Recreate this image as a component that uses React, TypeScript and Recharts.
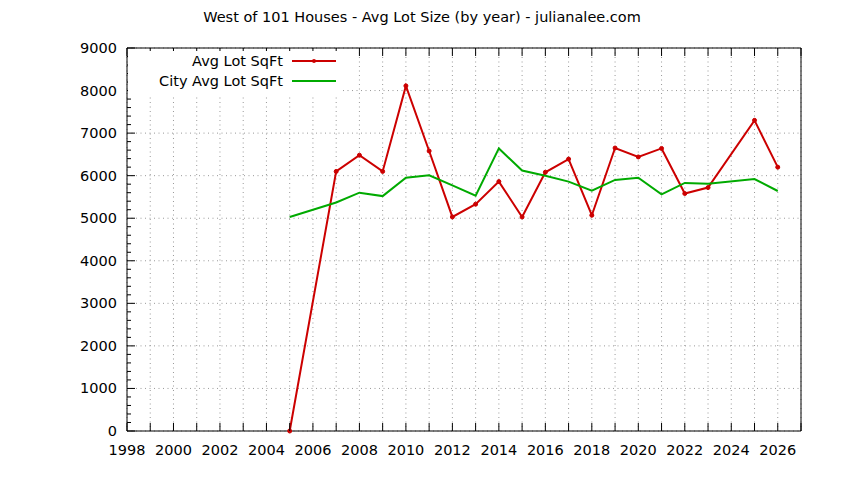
import { LineChart, Line, XAxis, YAxis, CartesianGrid, Legend } from "recharts"

const FONT = "'DejaVu Sans', sans-serif"
const RED = "#cc0000"
const GREEN = "#00aa00"

// values (null = no point for that year)
const years = [2005, 2006, 2007, 2008, 2009, 2010, 2011, 2012, 2013, 2014, 2015, 2016, 2017, 2018, 2019, 2020, 2021, 2022, 2023, 2024, 2025, 2026]
const avgLotSqft = [0, null, 6100, 6480, 6100, 8110, 6580, 5030, 5330, 5860, 5030, 6080, 6390, 5070, 6650, 6440, 6640, 5580, 5720, null, 7300, 6200]
const cityAvgLotSqft = [5030, null, 5370, 5600, 5520, 5950, 6010, 5770, 5530, 6640, 6120, 6000, 5860, 5650, 5900, 5950, 5560, 5830, 5810, null, 5920, 5640]

const xTicks = [1998, 1999, 2000, 2001, 2002, 2003, 2004, 2005, 2006, 2007, 2008, 2009, 2010, 2011, 2012, 2013, 2014, 2015, 2016, 2017, 2018, 2019, 2020, 2021, 2022, 2023, 2024, 2025, 2026, 2027]
const yMajorTicks = [0, 1000, 2000, 3000, 4000, 5000, 6000, 7000, 8000, 9000]
const yMinorTicks = Array.from({ length: 46 }, (_, i) => i * 200)

const data = years.map((year, i) => ({ year, avg: avgLotSqft[i], city: cityAvgLotSqft[i] }))

const FS = 14.5
const labelStyle = { fontSize: FS, fontFamily: FONT, fill: "#000" }

function BottomTick({ x, y, payload }: any) {
  const v = payload.value
  return (
    <g>
      <line x1={x} x2={x} y1={y} y2={y - 8} stroke="#000" />
      {v % 2 === 0 && (
        <text x={x} y={y + 19} textAnchor="middle" dominantBaseline="central" {...labelStyle}>
          {v}
        </text>
      )}
    </g>
  )
}

function TopTick({ x, y }: any) {
  return <line x1={x} x2={x} y1={y} y2={y + 8} stroke="#000" />
}

function LeftTick({ x, y, payload }: any) {
  const v = payload.value
  const major = v % 1000 === 0
  return (
    <g>
      <line x1={x} x2={x + (major ? 8 : 4)} y1={y} y2={y} stroke="#000" />
      {major && (
        <text x={x - 10} y={y} textAnchor="end" dominantBaseline="central" {...labelStyle}>
          {v}
        </text>
      )}
    </g>
  )
}

function RightTick({ x, y, payload }: any) {
  const major = payload.value % 1000 === 0
  return <line x1={x} x2={x - (major ? 8 : 4)} y1={y} y2={y} stroke="#000" />
}

function LegendBox() {
  const rows = [
    { name: "Avg Lot SqFt", color: RED, dot: true },
    { name: "City Avg Lot SqFt", color: GREEN, dot: false },
  ]
  return (
    <div style={{ background: "#fff", width: 214, height: 44, fontFamily: FONT, fontSize: FS, color: "#000" }}>
      {rows.map((r) => (
        <div key={r.name} style={{ display: "flex", alignItems: "center", justifyContent: "flex-end", height: 20 }}>
          <span style={{ marginRight: 9, whiteSpace: "nowrap" }}>{r.name}</span>
          <svg width={50} height={10} style={{ display: "block" }}>
            <line x1={0} x2={44} y1={5} y2={5} stroke={r.color} strokeWidth={2} />
            {r.dot && <circle cx={22} cy={5} r={2} fill={r.color} />}
          </svg>
        </div>
      ))}
    </div>
  )
}

export default function App() {
  return (
    <div style={{ position: "absolute", left: 0, top: 0, width: 844, height: 480, background: "#fff" }}>
      <div
        style={{
          position: "absolute",
          left: 0,
          top: 9,
          width: 844,
          textAlign: "center",
          fontFamily: FONT,
          fontSize: FS,
          color: "#000",
          zIndex: 2,
        }}
      >
        West of 101 Houses - Avg Lot Size (by year) - julianalee.com
      </div>
      <LineChart width={844} height={480} data={data} margin={{ top: 47, right: 42, bottom: 19, left: 67 }}>
        <CartesianGrid yAxisId="left" horizontalValues={yMajorTicks} stroke="#999" strokeDasharray="1 3.5" />
        <XAxis
          dataKey="year"
          type="number"
          domain={[1998, 2027]}
          ticks={xTicks}
          interval={0}
          height={30}
          tickSize={0}
          tickMargin={0}
          tickLine={false}
          axisLine={{ stroke: "#000" }}
          tick={<BottomTick />}
        />
        <XAxis
          xAxisId="top"
          orientation="top"
          dataKey="year"
          type="number"
          domain={[1998, 2027]}
          ticks={xTicks}
          interval={0}
          height={1}
          tickSize={0}
          tickMargin={0}
          tickLine={false}
          axisLine={{ stroke: "#000" }}
          tick={<TopTick />}
        />
        <YAxis
          yAxisId="left"
          domain={[0, 9000]}
          ticks={yMinorTicks}
          interval={0}
          width={60}
          tickSize={0}
          tickMargin={0}
          tickLine={false}
          axisLine={{ stroke: "#000" }}
          tick={<LeftTick />}
        />
        <YAxis
          yAxisId="right"
          orientation="right"
          domain={[0, 9000]}
          ticks={yMinorTicks}
          interval={0}
          width={1}
          tickSize={0}
          tickMargin={0}
          tickLine={false}
          axisLine={{ stroke: "#000" }}
          tick={<RightTick />}
        />
        <Legend
          layout="vertical"
          align="center"
          verticalAlign="middle"
          wrapperStyle={{ left: 128, top: 51, width: 214, height: 44 }}
          content={() => <LegendBox />}
        />
        <Line
          yAxisId="left"
          dataKey="avg"
          name="Avg Lot SqFt"
          type="linear"
          stroke={RED}
          strokeWidth={2}
          dot={{ r: 2, fill: RED, stroke: RED, strokeWidth: 1 }}
          activeDot={false}
          connectNulls
          isAnimationActive={false}
        />
        <Line
          yAxisId="left"
          dataKey="city"
          name="City Avg Lot SqFt"
          type="linear"
          stroke={GREEN}
          strokeWidth={2}
          dot={false}
          activeDot={false}
          connectNulls
          isAnimationActive={false}
        />
      </LineChart>
    </div>
  )
}
